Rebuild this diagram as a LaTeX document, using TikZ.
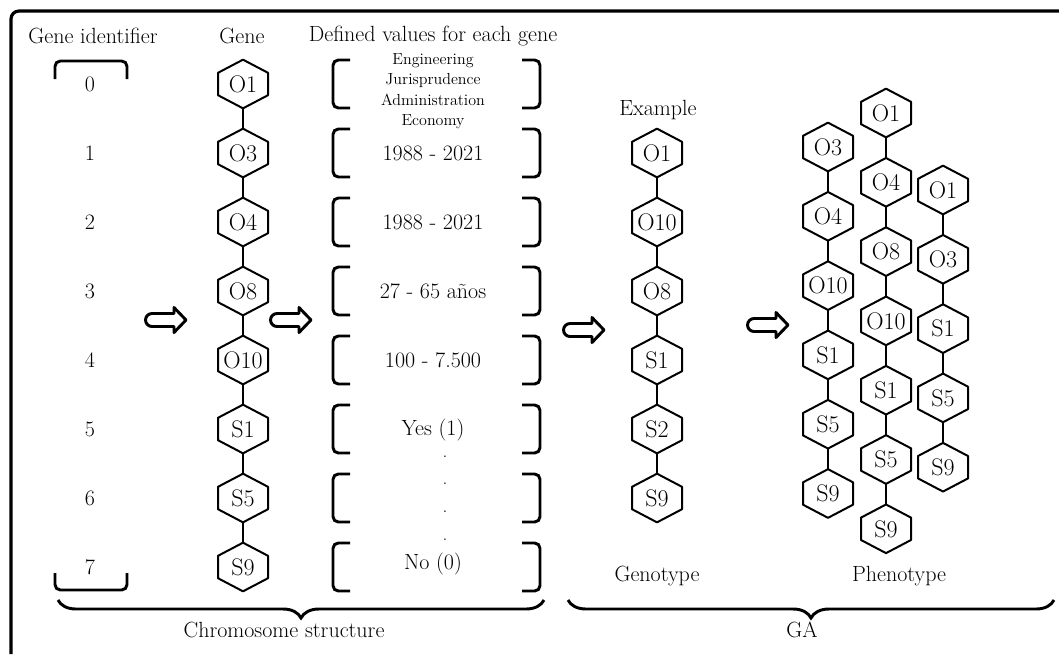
\documentclass[tikz,border=0pt]{standalone}
\usetikzlibrary{decorations.pathreplacing}

% Hexagon with pointed top and bottom, drawn inside the node's rectangle
\makeatletter
\pgfdeclareshape{hexnode}{
  \inheritsavedanchors[from=rectangle]
  \inheritanchorborder[from=rectangle]
  \inheritanchor[from=rectangle]{center}
  \inheritanchor[from=rectangle]{north}
  \inheritanchor[from=rectangle]{south}
  \inheritanchor[from=rectangle]{east}
  \inheritanchor[from=rectangle]{west}
  \backgroundpath{%
    \southwest \pgf@xa=\pgf@x \pgf@ya=\pgf@y
    \northeast \pgf@xb=\pgf@x \pgf@yb=\pgf@y
    \pgf@xc=.5\pgf@xa \advance\pgf@xc by .5\pgf@xb
    \pgf@yc=\pgf@yb \advance\pgf@yc by -\pgf@ya
    \pgf@yc=.27\pgf@yc
    \pgfutil@tempdima=\pgf@yb \advance\pgfutil@tempdima by -\pgf@yc
    \pgfutil@tempdimb=\pgf@ya \advance\pgfutil@tempdimb by \pgf@yc
    \edef\hx@l{\the\pgf@xa}\edef\hx@r{\the\pgf@xb}\edef\hx@c{\the\pgf@xc}%
    \edef\hx@b{\the\pgf@ya}\edef\hx@t{\the\pgf@yb}%
    \edef\hx@su{\the\pgfutil@tempdima}\edef\hx@sl{\the\pgfutil@tempdimb}%
    \pgfpathmoveto{\pgfqpoint{\hx@c}{\hx@t}}%
    \pgfpathlineto{\pgfqpoint{\hx@r}{\hx@su}}%
    \pgfpathlineto{\pgfqpoint{\hx@r}{\hx@sl}}%
    \pgfpathlineto{\pgfqpoint{\hx@c}{\hx@b}}%
    \pgfpathlineto{\pgfqpoint{\hx@l}{\hx@sl}}%
    \pgfpathlineto{\pgfqpoint{\hx@l}{\hx@su}}%
    \pgfpathclose
  }
}
\makeatother

\tikzset{
  lab/.style={font=\fontsize{16.5}{19}\selectfont, inner sep=0pt},
  small/.style={font=\fontsize{12}{15.4}\selectfont, inner sep=0pt, align=center},
  hex/.style={shape=hexnode, draw, line width=1.5pt, line join=round,
    minimum width=36pt, minimum height=35pt, inner sep=0pt,
    font=\fontsize{18}{18}\selectfont},
  link/.style={line width=1.5pt},
  bracketline/.style={line width=2.2pt, rounded corners=4pt},
  frameline/.style={line width=2.4pt, rounded corners=6pt},
  bracebar/.style={line width=2.2pt, decorate,
    decoration={brace, mirror, amplitude=13.5pt}},
  dotmark/.style={inner sep=0pt, font=\fontsize{12}{12}\selectfont},
  hollowarrow/.pic={
    \draw[line width=2.2pt, line join=round]
      (20,0) -- (8,-12.5) -- (8,-6.5) -- (-14,-6.5)
      arc (270:90:6.5) -- (8,6.5) -- (8,12.5) -- cycle;
  }
}

\begin{document}
\begin{tikzpicture}[x=0.75pt, y=-0.75pt]
\useasboundingbox (0,0) rectangle (1059,654);

% outer frame (top and left edges), running off the page
\coordinate (fbot) at (11,654);
\coordinate (fcorner) at (11,11);
\coordinate (fright) at (1059,11);
\draw[frameline] (fbot) -- (fcorner) -- (fright);

% column headings
\node[lab] (hid) at (93,36) {Gene identifier};
\node[lab] (hgene) at (242,36) {Gene};
\node[lab] (hval) at (433,36) {Defined values for each gene};

% gene identifiers 0..7 with the enclosing bracket
\foreach \n in {0,...,7}
  \node[lab] (id\n) at (90,{84+69*\n}) {\n};
\draw[bracketline] (55,79) -- (55,61) -- (127,61) -- (127,79);
\draw[bracketline] (55,573) -- (55,590) -- (127,590) -- (127,573);

% chromosome: one gene per identifier
\foreach \lab [count=\i] in {O1,O3,O4,O8,O10,S1,S5,S9}
  \node[hex] (g\i) at (243,{84+69*(\i-1)}) {\lab};
\foreach \i in {1,...,7}{
  \pgfmathtruncatemacro\j{\i+1}
  \draw[link] (g\i.south) -- (g\j.north);
}

% value ranges, each between square brackets
\foreach \r in {0,...,7}{
  \draw[bracketline] (350,{84+69*\r-24}) -- (333,{84+69*\r-24})
    -- (333,{84+69*\r+24}) -- (350,{84+69*\r+24});
  \draw[bracketline] (522,{84+69*\r-24}) -- (540,{84+69*\r-24})
    -- (540,{84+69*\r+24}) -- (522,{84+69*\r+24});
}
\node[small] (v0) at (433,91) {Engineering\\Jurisprudence\\Administration\\Economy};
\node[lab] (v1) at (433,153) {1988 - 2021};
\node[lab] (v2) at (433,222) {1988 - 2021};
\node[lab] (v3) at (433,291) {27 - 65 a\~nos};
\node[lab] (v4) at (433,360) {100 - 7.500};
\node[lab] (v5) at (433,430) {Yes (1)};
\node[lab] (v7) at (433,564) {No (0)};
\foreach \y [count=\k] in {457,484,512,540}
  \node[dotmark] (dot\k) at (445,\y) {.};

% flow arrows
\pic at (166,320) {hollowarrow};
\pic at (291,320) {hollowarrow};
\pic at (584,330) {hollowarrow};
\pic at (768,325) {hollowarrow};

% example genotype
\node[lab] (hex) at (658,110) {Example};
\foreach \lab [count=\i] in {O1,O10,O8,S1,S2,S9}
  \node[hex] (e\i) at (657,{153+69*(\i-1)}) {\lab};
\foreach \i in {1,...,5}{
  \pgfmathtruncatemacro\j{\i+1}
  \draw[link] (e\i.south) -- (e\j.north);
}

% phenotypes
\foreach \lab [count=\i] in {O3,O4,O10,S1,S5,S9}
  \node[hex] (a\i) at (828,{147+69.3*(\i-1)}) {\lab};
\foreach \i in {1,...,5}{
  \pgfmathtruncatemacro\j{\i+1}
  \draw[link] (a\i.south) -- (a\j.north);
}
\foreach \lab [count=\i] in {O1,O4,O8,O10,S1,S5,S9}
  \node[hex] (b\i) at (886,{113+69.3*(\i-1)}) {\lab};
\foreach \i in {1,...,6}{
  \pgfmathtruncatemacro\j{\i+1}
  \draw[link] (b\i.south) -- (b\j.north);
}
\foreach \lab [count=\i] in {O1,O3,S1,S5,S9}
  \node[hex] (c\i) at (943,{190+69.3*(\i-1)}) {\lab};
\foreach \i in {1,...,4}{
  \pgfmathtruncatemacro\j{\i+1}
  \draw[link] (c\i.south) -- (c\j.north);
}

\node[lab] (geno) at (657,576) {Genotype};
\node[lab] (pheno) at (899,576) {Phenotype};

% grouping braces
\coordinate (bl1) at (58,600);
\coordinate (bl2) at (544,600);
\coordinate (br1) at (568,600);
\coordinate (br2) at (1054,600);
\draw[bracebar] (bl1) -- (bl2);
\draw[bracebar] (br1) -- (br2);
\node[lab] (chrom) at (284,630) {Chromosome structure};
\node[lab] (ga) at (802,630) {GA};
\end{tikzpicture}
\end{document}
